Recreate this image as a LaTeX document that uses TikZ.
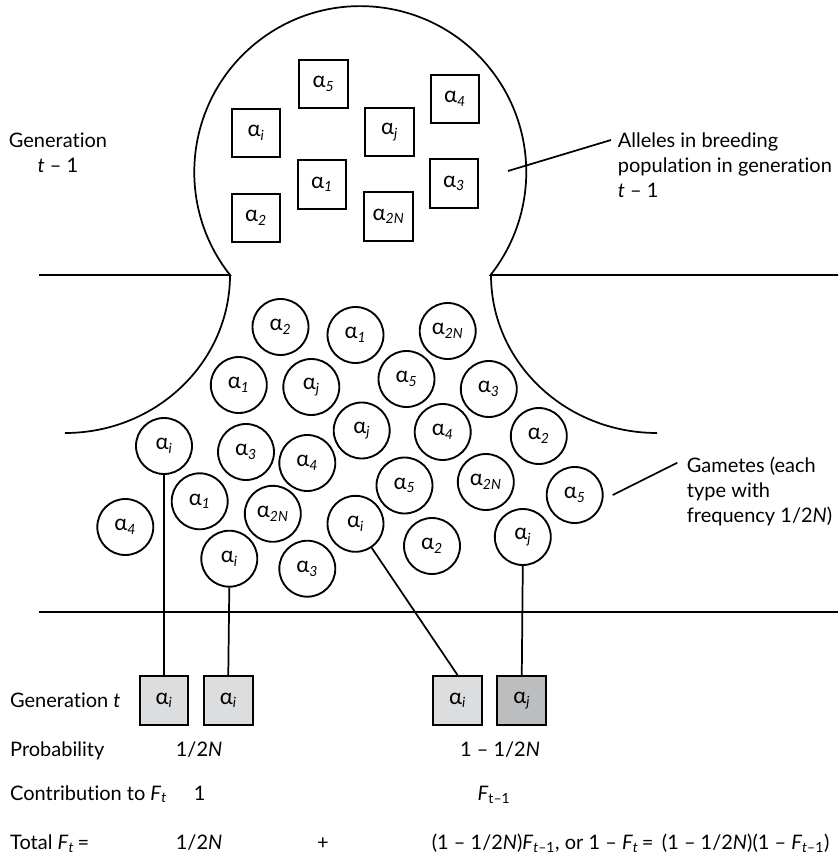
\documentclass[tikz,border=0pt]{standalone}
\usepackage{fontspec}
\setmainfont{Lato}[Ligatures=NoCommon]
\usetikzlibrary{positioning}

\definecolor{lightbox}{HTML}{DCDDDE}
\definecolor{darkbox}{HTML}{BCBDBF}
\newcommand{\allele}[1]{{\fontsize{16.5}{18}\selectfont α}\textsubscript{\textit{#1}}}

\tikzset{
  sqallele/.style={draw, line width=1.6pt, minimum size=36.6pt, inner sep=0pt},
  gamete/.style={draw, circle, line width=1.4pt, minimum size=42pt, inner sep=0pt},
  offspring/.style={sqallele, fill=lightbox},
  txt/.style={anchor=base west, inner sep=0pt},
}

\begin{document}
\begin{tikzpicture}[x=0.75pt, y=-0.75pt, line width=1.3pt,
    every node/.style={font=\fontsize{15}{18.75}\selectfont}]
    \useasboundingbox (0,0) rectangle (839,862);

    % generation t-1 : the bulb
    \draw (39,275) -- (230,275) arc[start angle=141.7, end angle=398.3, radius=166]
          -- (838,275);
    \draw (230,275) arc[start angle=0, end angle=90, x radius=165, y radius=158];
    \draw (491,275) arc[start angle=180, end angle=90, x radius=166, y radius=158];
    \draw (39,612) -- (838,612);

    \node [sqallele] (a5)  at (323.5,84)  {\allele{5}};
    \node [sqallele] (ai)  at (256,133)   {\allele{i}};
    \node [sqallele] (aj)  at (389.5,132) {\allele{j}};
    \node [sqallele] (a4)  at (455,99)    {\allele{4}};
    \node [sqallele] (a1)  at (322,184.5) {\allele{1}};
    \node [sqallele] (a3)  at (454,183.5) {\allele{3}};
    \node [sqallele] (a2)  at (256,218)   {\allele{2}};
    \node [sqallele] (a2N) at (388.5,216.5) {\allele{2N}};

    \node [anchor=north, align=center, inner sep=0pt] (gen0) at (58,132)
          {Generation\\\textit{t} – 1};
    \node [anchor=north west, align=left, inner sep=0pt] (alleles) at (617,132)
          {Alleles in breeding\\population in generation\\\textit{t} – 1};
    \coordinate (allfoot) at (508,171);
    \coordinate (alltip) at (611,140);
    \draw (allfoot) -- (alltip);

    % gametes
    \node [gamete] (g1)  at (280.5,327) {\allele{2}};
    \node [gamete] (g2)  at (355.5,335) {\allele{1}};
    \node [gamete] (g3)  at (447.7,331) {\allele{2N}};
    \node [gamete] (g4)  at (238.8,385) {\allele{1}};
    \node [gamete] (g5)  at (311.3,387) {\allele{j}};
    \node [gamete] (g6)  at (406.5,379) {\allele{5}};
    \node [gamete] (g7)  at (488.8,389) {\allele{3}};
    \node [gamete] (gi1) at (164,446)   {\allele{i}};
    \node [gamete] (g8)  at (246,452)   {\allele{3}};
    \node [gamete] (g9)  at (307.3,463) {\allele{4}};
    \node [gamete] (g10) at (361.7,430.5) {\allele{j}};
    \node [gamete] (g11) at (442.7,432) {\allele{4}};
    \node [gamete] (g12) at (538.8,436) {\allele{2}};
    \node [gamete] (g13) at (199.7,501.3) {\allele{1}};
    \node [gamete] (g14) at (272.8,513.8) {\allele{2N}};
    \node [gamete] (g15) at (404.5,485.5) {\allele{5}};
    \node [gamete] (g16) at (485.8,482) {\allele{2N}};
    \node [gamete] (g17) at (574.7,495) {\allele{5}};
    \node [gamete] (g18) at (125.3,527) {\allele{4}};
    \node [gamete] (gi2) at (229.3,558.7) {\allele{i}};
    \node [gamete] (g19) at (307.3,568.7) {\allele{3}};
    \node [gamete] (gi3) at (355.5,523.8) {\allele{i}};
    \node [gamete] (g20) at (432,546)   {\allele{2}};
    \node [gamete] (gj)  at (522.8,537) {\allele{j}};

    \node [anchor=north west, align=left, inner sep=0pt] (gametes) at (686,456)
          {Gametes (each\\type with\\frequency 1/2\textit{N})};
    \coordinate (gamfoot) at (612.7,495);
    \coordinate (gamtip) at (677.3,462.7);
    \draw (gamfoot) -- (gamtip);

    % generation t
    \node [offspring] (ti1) at (164,700.5) {\allele{i}};
    \node [offspring, right=10pt of ti1] (ti2) {\allele{i}};
    \node [offspring] (ti3) at (457.5,700.5) {\allele{i}};
    \node [offspring, fill=darkbox, right=10pt of ti3] (tj) {\allele{j}};

    \draw (gi1.south) -- (ti1.north);
    \draw (gi2.south) -- (ti2.north);
    \draw (gi3) -- (ti3.north);
    \draw (gj.south) -- (tj.north);

    % table of probabilities
    \node [txt] (rowgen)  at (9.3,707.7) {Generation \textit{t}};
    \node [txt] (rowprob) at (9.3,756.7) {Probability};
    \node [txt] (p1) at (175,756.7)   {1/2\textit{N}};
    \node [txt] (p2) at (459.3,756.7) {1 – 1/2\textit{N}};
    \node [txt] (rowcon)  at (9.3,800) {Contribution to \textit{F}\textsubscript{\textit{t}}};
    \node [txt] (c1) at (193,800)   {1};
    \node [txt] (c2) at (476.7,800) {\textit{F}\textsubscript{t–1}};
    \node [txt] (rowtot)  at (9.3,849.3) {Total \textit{F}\textsubscript{\textit{t}}\,=};
    \node [txt] (s1) at (175,849.3) {1/2\textit{N}};
    \node [anchor=base, inner sep=0pt] (plus) at (323,849.3) {+};
    \node [txt] (s2) at (431,849.3)
          {(1 – 1/2\textit{N})\textit{F}\textsubscript{\textit{t}–1}, or 1 – \textit{F}\textsubscript{\textit{t}}\,=\, (1 – 1/2\textit{N})(1 – \textit{F}\textsubscript{\textit{t}–1})};
  \end{tikzpicture}
\end{document}
